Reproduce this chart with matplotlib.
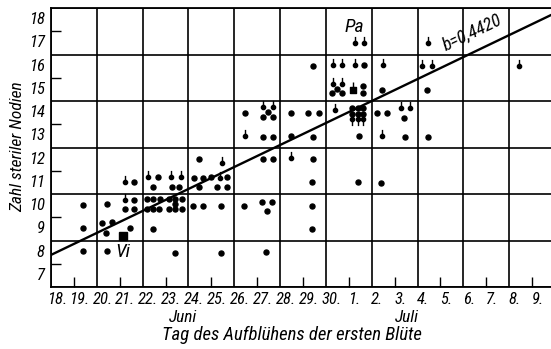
import matplotlib
matplotlib.use("Agg")
import matplotlib.pyplot as plt
from matplotlib.path import Path

plt.rcParams['font.family'] = ['Roboto Condensed', 'Archivo Narrow', 'Asap Condensed', 'DejaVu Sans']
plt.rcParams['font.style'] = 'italic'

# day of first flowering (18 = 18. Juni, 31 = 1. Juli) and number of sterile nodes
dot_day = [19.41, 20.43, 21.64, 21.64, 21.23, 21.64, 19.41, 20.21, 20.66, 20.40, 21.46, 19.41, 20.43,
           22.69, 24.24, 24.64, 24.99, 25.67,
           22.47, 23.27, 23.60, 24.48, 25.24, 25.67,
           22.21, 22.47, 22.76, 23.17, 23.41, 23.71, 23.41,
           22.21, 22.47, 22.73, 23.17, 23.41, 23.71,
           24.21, 24.62, 25.41, 22.44, 23.41, 25.41, 24.48,
           26.45, 27.49, 27.24, 27.68, 28.47, 29.24, 29.70,
           27.24, 27.68, 28.47, 29.43, 27.24, 27.68, 29.43,
           29.41, 26.43, 27.20, 27.64, 27.42, 29.41, 29.41, 27.39, 29.43,
           31.67, 30.48, 30.28, 30.69, 31.64, 31.64, 32.44,
           31.13, 31.38, 31.62, 31.13, 31.38, 31.62,
           31.46, 32.25, 32.66, 33.40, 33.44, 34.44, 34.43, 32.40, 31.42]
dot_val = [10.03, 10.06, 11.0, 10.24, 9.84, 9.84, 9.03, 9.27, 9.30, 8.84, 9.03, 8.06, 8.06,
           11.24, 11.2, 11.2, 11.24, 11.24,
           10.81, 10.81, 10.81, 10.81, 10.81, 10.81,
           10.27, 10.27, 10.27, 10.27, 10.27, 10.27, 10.08,
           9.87, 9.87, 9.87, 9.87, 9.87, 9.87,
           10.0, 10.0, 10.0, 8.98, 7.98, 7.98, 11.99,
           14.0, 14.04, 13.82, 13.80, 14.0, 14.0, 14.0,
           12.97, 12.97, 13.0, 12.97, 11.99, 11.99, 11.99,
           11.03, 10.0, 10.17, 10.17, 9.78, 9.98, 9.0, 8.02, 16.0,
           16.05, 15.0, 14.83, 14.83, 15.15, 14.83, 14.98,
           14.2, 14.2, 14.2, 13.96, 13.96, 13.96,
           12.99, 14.0, 14.0, 13.76, 12.97, 12.97, 14.97, 10.96, 11.0]

stem_day = [21.23, 21.23, 22.25, 23.23, 23.66, 25.38, 25.45,
            27.24, 27.68, 30.40, 26.47, 28.48,
            31.28, 31.67, 30.30, 30.69, 31.28, 32.48, 30.30, 30.69,
            33.27, 33.67, 32.46, 34.45, 34.21, 34.62, 38.41]
stem_val = [11.0, 10.24, 11.24, 11.24, 11.24, 11.2, 11.85,
            14.23, 14.23, 14.1, 13.0, 12.05,
            17.0, 17.0, 16.05, 16.05, 16.05, 16.05, 15.23, 15.23,
            14.2, 14.2, 12.98, 17.0, 16.0, 16.0, 16.0]

down_day = [31.13, 31.38, 31.62]
down_val = [13.72, 13.72, 13.72]

vi_day, vi_val = 21.13, 8.69
pa_day, pa_val = 31.20, 14.98

line_day = [18.0, 40.0]
line_val = [7.88, 18.28]

day_ticks = list(range(18, 40))
day_labels = [f"{d if d <= 30 else d - 30}." for d in day_ticks]
node_ticks = list(range(7, 19))

fig = plt.figure(figsize=(5.51, 3.49), dpi=100)
ax = fig.add_axes([51 / 551, 62 / 349, 504 / 551, 279 / 349])
ax.set_xlim(18, 40)
ax.set_ylim(6.5, 18.5)

for s in ['left', 'bottom', 'top']:
    ax.spines[s].set_linewidth(1.3)
ax.spines['right'].set_visible(False)

ax.set_xticks(range(18, 41, 2))
ax.set_yticks([6.5 + 2 * i for i in range(7)])
ax.set_xticks(range(19, 40, 2), minor=True)
ax.set_yticks([7.5 + 2 * i for i in range(6)], minor=True)
ax.tick_params(which='major', length=0, labelbottom=False, labelleft=False)
ax.tick_params(which='minor', direction='in', length=7, width=1.0)
ax.tick_params(axis='y', which='minor', left=True)
ax.grid(True, which='major', color='k', lw=1.2)

for d, lab in zip(day_ticks, day_labels):
    ax.text(d + 0.25, 6.28, lab, ha='center', va='top', fontsize=12)
for n in node_ticks:
    ax.text(17.72, n, str(n), ha='right', va='center', fontsize=12)

ax.plot(line_day, line_val, color='k', lw=1.7, zorder=3)

circle = Path(Path.unit_circle().vertices * 0.32, Path.unit_circle().codes)
up_stem = Path.make_compound_path(circle, Path([(0, 0), (0, 1)], [Path.MOVETO, Path.LINETO]))
down_stem = Path.make_compound_path(circle, Path([(0, 0), (0, -1)], [Path.MOVETO, Path.LINETO]))
sq = Path([(-0.4, -0.4), (0.4, -0.4), (0.4, 0.4), (-0.4, 0.4), (-0.4, -0.4)],
          [Path.MOVETO, Path.LINETO, Path.LINETO, Path.LINETO, Path.CLOSEPOLY])
sq_stem = Path.make_compound_path(sq, Path([(0, 0), (0, 1)], [Path.MOVETO, Path.LINETO]))

ax.plot(dot_day, dot_val, 'o', color='k', ms=3.6, zorder=4)
ax.plot(stem_day, stem_val, ls='none', marker=up_stem, ms=9.5, color='k', mew=1.0, zorder=4)
ax.plot(down_day, down_val, ls='none', marker=down_stem, ms=9.5, color='k', mew=1.0, zorder=4)
ax.plot([vi_day], [vi_val], ls='none', marker='s', ms=6, color='k', zorder=4)
ax.plot([pa_day], [pa_val], ls='none', marker=sq_stem, ms=11.5, color='k', mew=1.0, zorder=4)

ax.text(21.12, 8.0, 'Vi', ha='center', va='center', fontsize=14)
ax.text(31.25, 17.68, 'Pa', ha='center', va='center', fontsize=14)
ax.text(36.4, 17.45, 'b=0,4420', ha='center', va='center', fontsize=13, rotation=25.6)

fig.text(18 / 551, 1 - 147 / 349, 'Zahl steriler Nodien', rotation=90, ha='center', va='center', fontsize=12.5)
fig.text(183 / 551, 1 - 317 / 349, 'Juni', ha='center', va='center', fontsize=12.5)
fig.text(407 / 551, 1 - 318 / 349, 'Juli', ha='center', va='center', fontsize=12.5)
fig.text(292 / 551, 1 - 335 / 349, 'Tag des Aufblühens der ersten Blüte', ha='center', va='center', fontsize=13.5)

fig.savefig('out.png', dpi=100)
